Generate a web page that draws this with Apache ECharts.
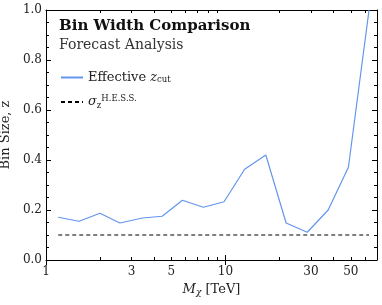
<!DOCTYPE html>
<html><head><meta charset="utf-8">
<script src="https://cdn.jsdelivr.net/npm/echarts@6/dist/echarts.min.js"></script>
<style>html,body{margin:0;padding:0;background:#fff}#c{width:382px;height:305px}</style>
</head><body><div id="c"></div>
<script>
var massTeV = [1.17, 1.53, 2.0, 2.58, 3.45, 4.44, 5.76, 7.54, 9.83, 12.8, 16.8, 21.8, 28.6, 37.4, 48.5, 63.2];
var zCut = [0.171, 0.155, 0.187, 0.148, 0.168, 0.175, 0.239, 0.211, 0.233, 0.363, 0.420, 0.148, 0.111, 0.200, 0.371, 1.0];
var hessX = [1.17, 63.2];
var hessY = [0.1, 0.1];
var xLabelTicks = [1, 3, 5, 10, 30, 50];
var xMinorTicks = [2, 3, 4, 5, 6, 7, 8, 9, 20, 30, 40, 50, 60];
var xMajorTicks = [1, 10];

var FONT = 'DejaVu Serif';
var TXT = '#222';
function zip(a, b) { return a.map(function (v, i) { return [v, b[i]]; }); }

var baseX = {type: 'log', logBase: 10, min: 1, max: 70, gridIndex: 0};
function xAx(extra) { return Object.assign({}, baseX, extra); }

var legendRich = {
  t: {fontFamily: FONT, fontSize: 13, color: TXT},
  i: {fontFamily: FONT, fontSize: 13, fontStyle: 'italic', color: TXT},
  s: {fontFamily: FONT, fontSize: 8.5, color: TXT, verticalAlign: 'bottom', padding: [5, 0, 0, 0]},
  p: {fontFamily: FONT, fontSize: 8.5, color: TXT, verticalAlign: 'top', padding: [0, 0, 7, 0]}
};
function legendFmt(n) {
  return n === 'eff' ? '{t|Effective }{i|z}{s|cut}' : '{i|σ}{s|z}{p|H.E.S.S.}';
}
function mkLegend(name, top) {
  return {
    orient: 'vertical', left: 60, top: top, padding: 0, itemWidth: 22, itemHeight: 12, itemGap: 0,
    data: [name], formatter: legendFmt,
    itemStyle: {opacity: 0},
    textStyle: {fontFamily: FONT, fontSize: 13, color: TXT, rich: legendRich}
  };
}

var chart = echarts.init(document.getElementById('c'));
chart.setOption({
  animation: false,
  grid: {left: 46, right: 5, top: 10, bottom: 45, outerBoundsMode: 'none', containLabel: false},
  title: {
    text: 'Bin Width Comparison', subtext: 'Forecast Analysis',
    left: 59, top: 19, itemGap: 4, padding: 0,
    textStyle: {fontFamily: FONT, fontWeight: 'bold', fontSize: 15, color: '#111'},
    subtextStyle: {fontFamily: FONT, fontSize: 14, color: '#333'}
  },
  legend: [mkLegend('eff', 71), mkLegend('hess', 94)],
  xAxis: [
    xAx({position: 'bottom',
      name: '{i|M}{s|χ} [TeV]', nameLocation: 'middle', nameGap: 23,
      nameTextStyle: {fontFamily: FONT, fontSize: 13, color: TXT,
        rich: {i: {fontFamily: FONT, fontSize: 13, fontStyle: 'italic', color: TXT},
               s: {fontFamily: FONT, fontSize: 9, fontStyle: 'italic', color: TXT, verticalAlign: 'bottom', padding: [5, 0, 0, 0]}}},
      axisLine: {show: true, onZero: false, lineStyle: {color: '#000', width: 1}},
      axisTick: {show: true, inside: true, length: 3, customValues: xMinorTicks, lineStyle: {color: '#000'}},
      axisLabel: {show: true, customValues: xLabelTicks, margin: 6, fontFamily: FONT, fontSize: 12, color: TXT},
      splitLine: {show: false}}),
    xAx({position: 'bottom',
      axisLine: {show: false}, axisLabel: {show: false}, splitLine: {show: false},
      axisTick: {show: true, inside: true, length: 5, customValues: xMajorTicks, lineStyle: {color: '#000'}}}),
    xAx({position: 'top',
      axisLine: {show: true, onZero: false, lineStyle: {color: '#000', width: 1}}, axisLabel: {show: false}, splitLine: {show: false},
      axisTick: {show: true, inside: true, length: 3, customValues: xMinorTicks, lineStyle: {color: '#000'}}}),
    xAx({position: 'top',
      axisLine: {show: false}, axisLabel: {show: false}, splitLine: {show: false},
      axisTick: {show: true, inside: true, length: 5, customValues: xMajorTicks, lineStyle: {color: '#000'}}})
  ],
  yAxis: [
    {type: 'value', min: 0, max: 1, interval: 0.2, position: 'left',
      name: 'Bin Size, z', nameLocation: 'middle', nameGap: 25,
      nameTextStyle: {fontFamily: FONT, fontSize: 13, color: TXT},
      axisLine: {show: true, onZero: false, lineStyle: {color: '#000', width: 1}},
      axisTick: {show: true, inside: true, length: 5, lineStyle: {color: '#000'}},
      minorTick: {show: true, splitNumber: 4, length: 3, lineStyle: {color: '#000'}},
      axisLabel: {margin: 4, fontFamily: FONT, fontSize: 12, color: TXT, formatter: function (v) { return v.toFixed(1); }},
      splitLine: {show: false}, minorSplitLine: {show: false}},
    {type: 'value', min: 0, max: 1, interval: 0.2, position: 'right',
      axisLine: {show: true, onZero: false, lineStyle: {color: '#000', width: 1}},
      axisTick: {show: true, inside: true, length: 5, lineStyle: {color: '#000'}},
      minorTick: {show: true, splitNumber: 4, length: 3, lineStyle: {color: '#000'}},
      axisLabel: {show: false}, splitLine: {show: false}, minorSplitLine: {show: false}}
  ],
  series: [
    {name: 'eff', type: 'line', xAxisIndex: 0, yAxisIndex: 0, data: zip(massTeV, zCut),
      symbol: 'none', clip: true, lineStyle: {color: '#6495ED', width: 1.2}, itemStyle: {color: '#6495ED'}},
    {name: 'hess', type: 'line', xAxisIndex: 0, yAxisIndex: 0, data: zip(hessX, hessY),
      symbol: 'none', lineStyle: {color: '#000', width: 1.2, type: [4, 3]}, itemStyle: {color: '#000'}}
  ]
});
</script></body></html>
